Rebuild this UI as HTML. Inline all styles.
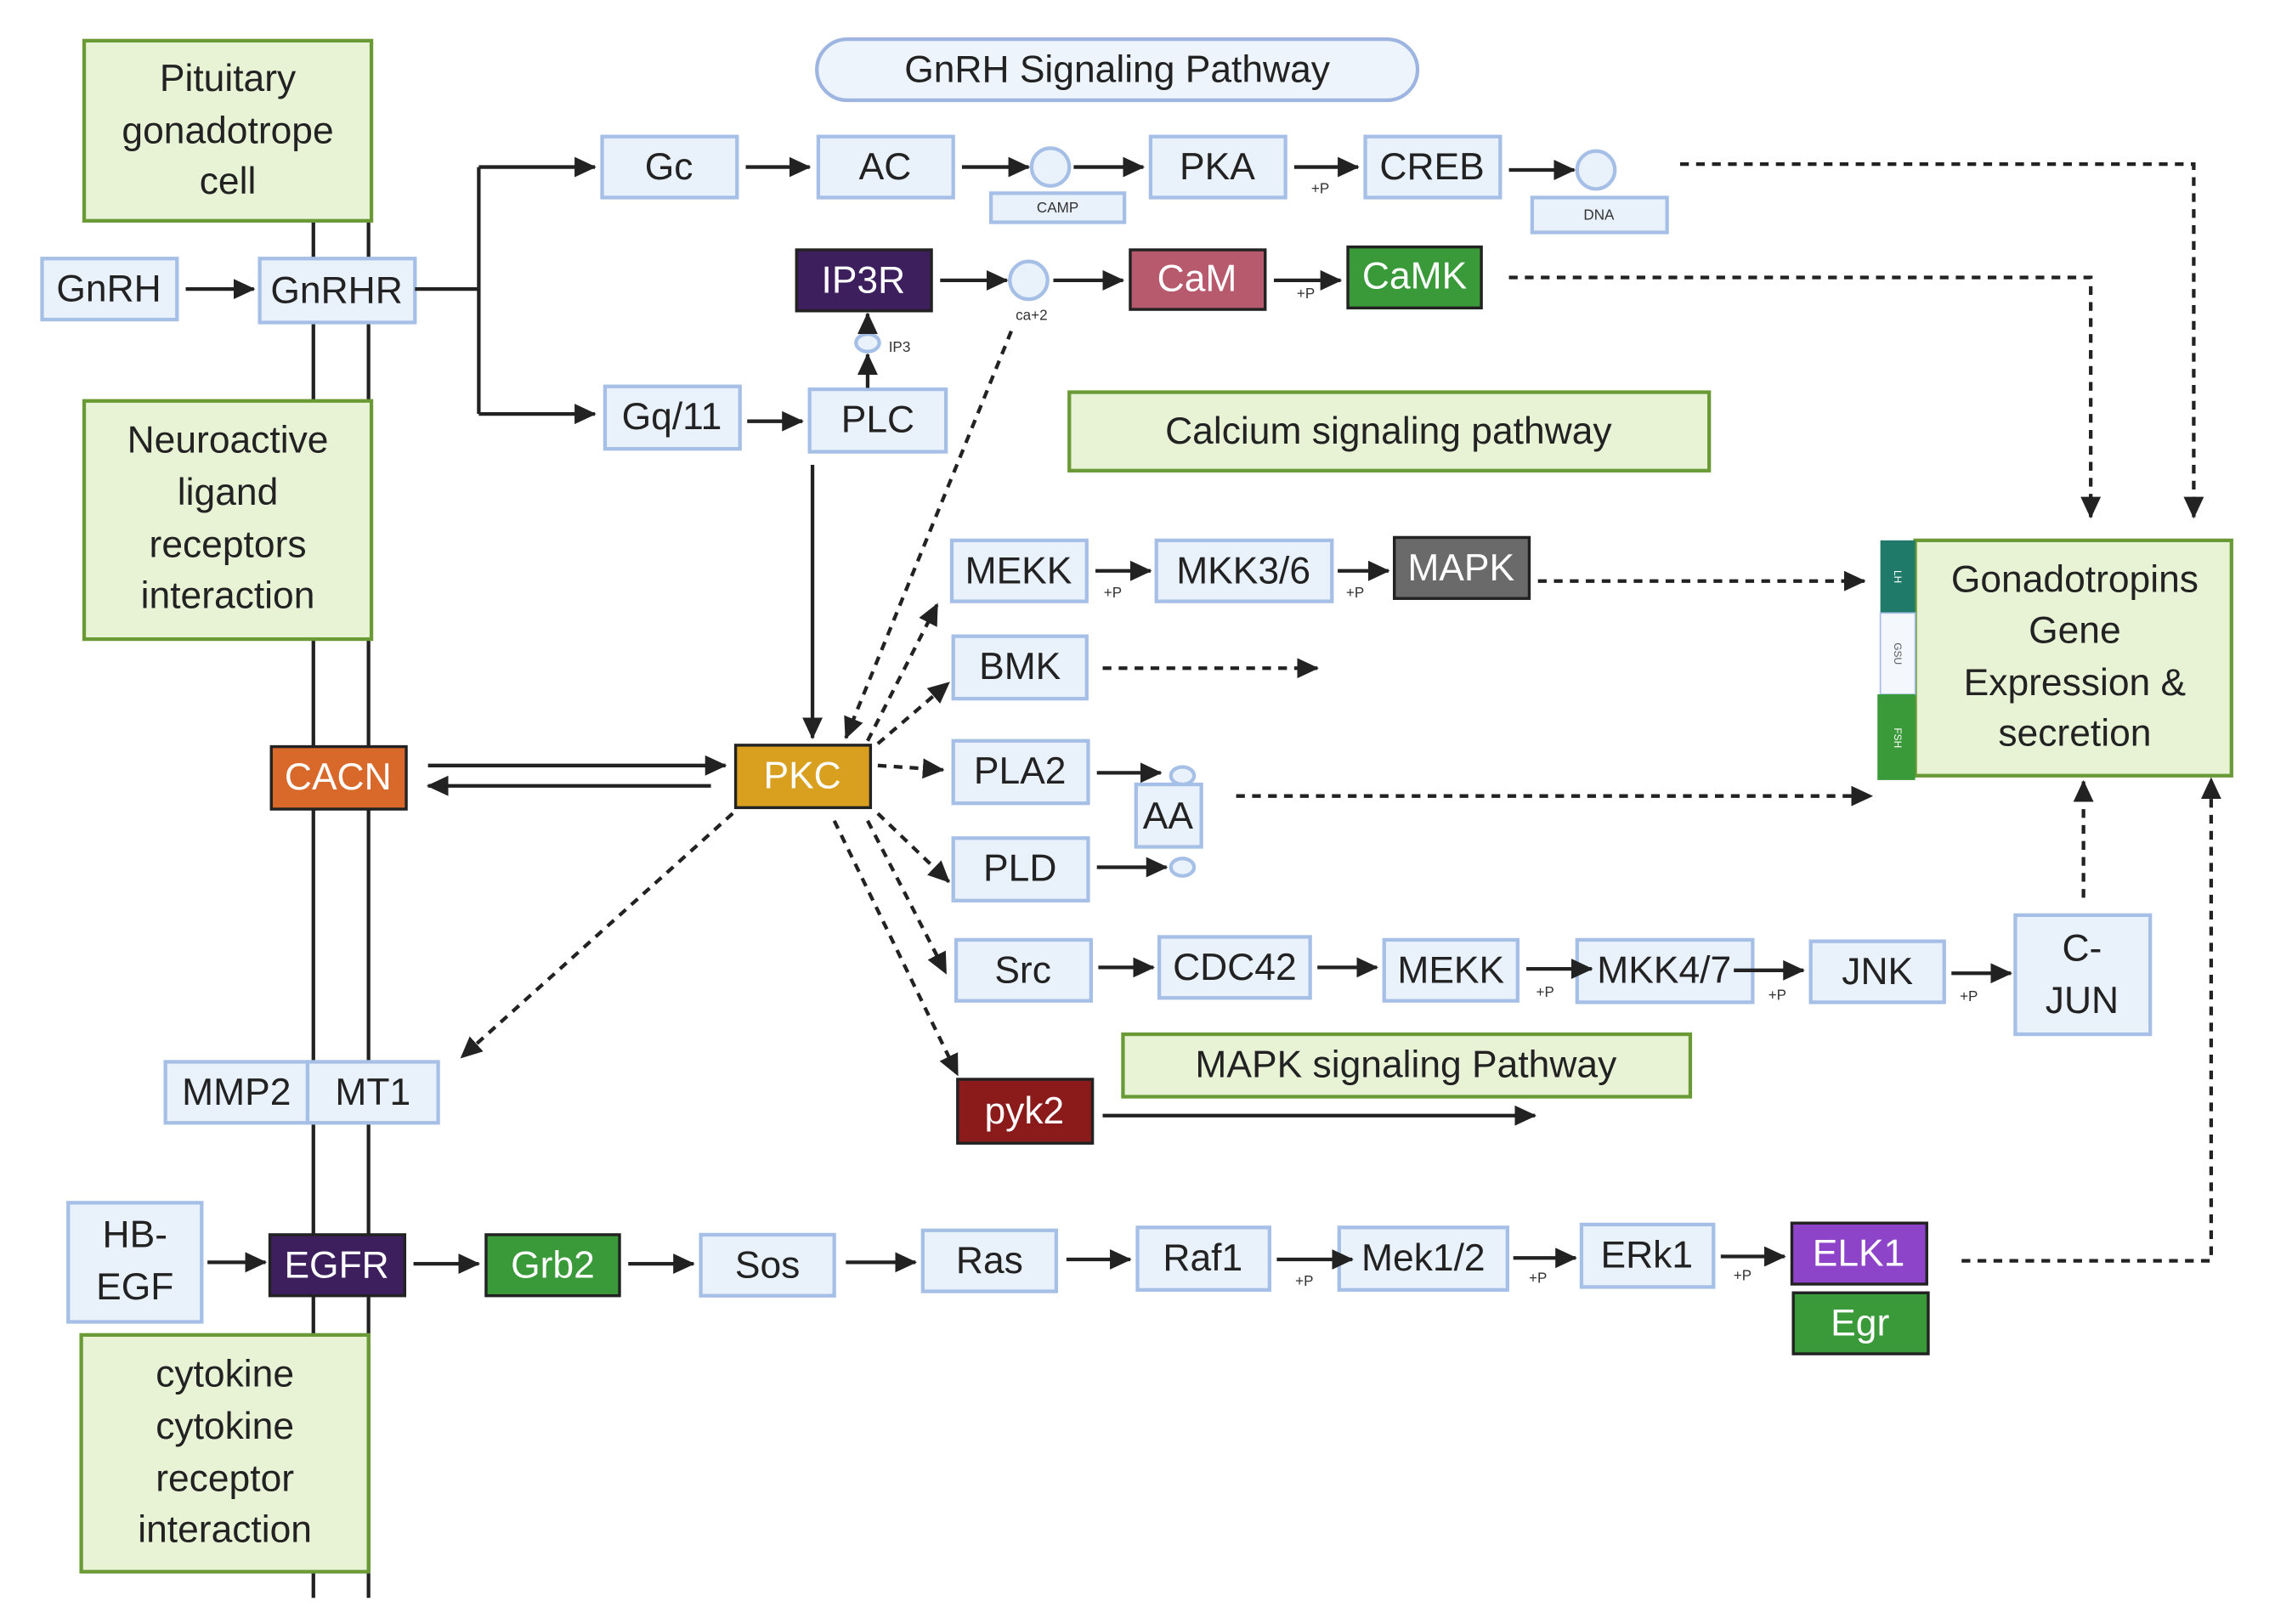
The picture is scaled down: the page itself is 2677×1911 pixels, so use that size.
<!DOCTYPE html>
<html><head><meta charset="utf-8"><style>
html,body{margin:0;padding:0;background:#fff;}
svg{display:block;}
text{font-family:"Liberation Sans Narrow","Liberation Sans",sans-serif;text-anchor:middle;dominant-baseline:central;}
</style></head><body>
<svg width="2677" height="1911" viewBox="0 0 1568 1118" preserveAspectRatio="none" xmlns="http://www.w3.org/2000/svg">
<defs>
<marker id="a" markerUnits="userSpaceOnUse" markerWidth="16" markerHeight="16" refX="14" refY="8" orient="auto"><path d="M0,1 L15,8 L0,15 z" fill="#222"/></marker>
</defs>
<g stroke="#222" stroke-width="2.5" fill="none">
<line x1="216" y1="152" x2="216" y2="1100"/><line x1="254" y1="152" x2="254" y2="1100"/>
</g>
<g fill="#e8f3d6" stroke="#6a9a36" stroke-width="2.5">
<rect x="58" y="28" width="198" height="124"/>
<rect x="58" y="276" width="198" height="164"/>
<rect x="56" y="919" width="198" height="163"/>
<rect x="737" y="270" width="441" height="54"/>
<rect x="774" y="712" width="391" height="43"/>
<rect x="1320" y="372" width="218" height="162"/>
</g>
<rect x="563" y="27" width="414" height="42" rx="21" fill="#eef4fb" stroke="#9db5e0" stroke-width="2.5"/>
<rect x="1296" y="372" width="24" height="50" fill="#1f7a6a"/>
<rect x="1296" y="422" width="24" height="56" fill="#f4f7fb" stroke="#a6bfe6"/>
<rect x="1294" y="478" width="26" height="59" fill="#3a9a3a"/>
<g font-size="7" fill="#fff"><text x="1308" y="397" transform="rotate(90 1308 397)">LH</text><text x="1308" y="450" fill="#555" transform="rotate(90 1308 450)">GSU</text><text x="1308" y="508" transform="rotate(90 1308 508)">FSH</text></g>
<g fill="#e9f1fb" stroke="#a6bfe6" stroke-width="2.5">
<rect x="29" y="178" width="93" height="42"/><rect x="179" y="178" width="107" height="44"/>
<rect x="415" y="94" width="93" height="42"/><rect x="564" y="94" width="93" height="42"/>
<rect x="683" y="133" width="92" height="20"/><rect x="793" y="94" width="93" height="42"/>
<rect x="941" y="94" width="93" height="42"/><rect x="1056" y="136" width="93" height="24"/>
<rect x="417" y="266" width="93" height="43"/><rect x="558" y="268" width="94" height="43"/>
<rect x="656" y="372" width="93" height="42"/><rect x="797" y="372" width="121" height="42"/>
<rect x="657" y="438" width="92" height="43"/><rect x="657" y="510" width="93" height="43"/>
<rect x="783" y="540" width="45" height="43"/><rect x="657" y="577" width="93" height="43"/>
<rect x="659" y="647" width="93" height="42"/><rect x="799" y="645" width="104" height="42"/>
<rect x="954" y="647" width="92" height="42"/><rect x="1087" y="647" width="121" height="43"/>
<rect x="1248" y="648" width="92" height="42"/><rect x="1389" y="630" width="93" height="82"/>
<rect x="114" y="731" width="98" height="42"/><rect x="212" y="731" width="90" height="42"/>
<rect x="47" y="828" width="92" height="82"/>
<rect x="483" y="850" width="92" height="42"/><rect x="636" y="847" width="92" height="42"/>
<rect x="784" y="845" width="91" height="43"/><rect x="923" y="845" width="116" height="43"/>
<rect x="1090" y="843" width="91" height="43"/>
<circle cx="724" cy="115" r="13"/><circle cx="1100" cy="117" r="13"/><circle cx="709" cy="193" r="13"/>
<ellipse cx="598" cy="236" rx="8" ry="6"/><ellipse cx="815" cy="534" rx="8" ry="6"/><ellipse cx="815" cy="597" rx="8" ry="6"/>
</g>
<g stroke="#222" stroke-width="2">
<rect x="549" y="172" width="93" height="42" fill="#3d1f5e"/>
<rect x="779" y="172" width="93" height="41" fill="#b85a6e"/>
<rect x="929" y="170" width="92" height="42" fill="#3a9a3a"/>
<rect x="961" y="370" width="93" height="42" fill="#6a6a6a"/>
<rect x="187" y="514" width="93" height="43" fill="#d9692b"/>
<rect x="507" y="513" width="93" height="43" fill="#d9a020"/>
<rect x="660" y="743" width="93" height="44" fill="#8b1a1a"/>
<rect x="186" y="850" width="93" height="42" fill="#3d1f5e"/>
<rect x="335" y="850" width="92" height="42" fill="#3a9a3a"/>
<rect x="1235" y="842" width="93" height="42" fill="#8e44c8"/>
<rect x="1236" y="890" width="93" height="42" fill="#3a9a3a"/>
</g>
<g stroke="#222" stroke-width="2.5" fill="none">
<line x1="128" y1="199" x2="175" y2="199" marker-end="url(#a)"/>
<polyline points="286,199 330,199"/><line x1="330" y1="115" x2="330" y2="285"/>
<line x1="330" y1="115" x2="410" y2="115" marker-end="url(#a)"/>
<line x1="330" y1="285" x2="410" y2="285" marker-end="url(#a)"/>
<line x1="514" y1="115" x2="558" y2="115" marker-end="url(#a)"/>
<line x1="663" y1="115" x2="709" y2="115" marker-end="url(#a)"/>
<line x1="740" y1="115" x2="788" y2="115" marker-end="url(#a)"/>
<line x1="892" y1="115" x2="936" y2="115" marker-end="url(#a)"/>
<line x1="1040" y1="117" x2="1085" y2="117" marker-end="url(#a)"/>
<line x1="648" y1="193" x2="694" y2="193" marker-end="url(#a)"/>
<line x1="726" y1="193" x2="774" y2="193" marker-end="url(#a)"/>
<line x1="878" y1="193" x2="924" y2="193" marker-end="url(#a)"/>
<line x1="515" y1="290" x2="553" y2="290" marker-end="url(#a)"/>
<line x1="598" y1="267" x2="598" y2="244" marker-end="url(#a)"/>
<line x1="598" y1="229" x2="598" y2="216" marker-end="url(#a)"/>
<line x1="560" y1="320" x2="560" y2="508" marker-end="url(#a)"/>
<line x1="755" y1="393" x2="793" y2="393" marker-end="url(#a)"/>
<line x1="922" y1="393" x2="957" y2="393" marker-end="url(#a)"/>
<line x1="295" y1="527" x2="500" y2="527" marker-end="url(#a)"/>
<line x1="490" y1="541" x2="295" y2="541" marker-end="url(#a)"/>
<line x1="756" y1="532" x2="800" y2="532" marker-end="url(#a)"/>
<line x1="756" y1="597" x2="804" y2="597" marker-end="url(#a)"/>
<line x1="757" y1="666" x2="795" y2="666" marker-end="url(#a)"/>
<line x1="908" y1="666" x2="949" y2="666" marker-end="url(#a)"/>
<line x1="1052" y1="667" x2="1097" y2="667" marker-end="url(#a)"/>
<line x1="1195" y1="668" x2="1243" y2="668" marker-end="url(#a)"/>
<line x1="1345" y1="670" x2="1386" y2="670" marker-end="url(#a)"/>
<line x1="760" y1="768" x2="1058" y2="768" marker-end="url(#a)"/>
<line x1="143" y1="869" x2="183" y2="869" marker-end="url(#a)"/>
<line x1="285" y1="870" x2="330" y2="870" marker-end="url(#a)"/>
<line x1="433" y1="870" x2="478" y2="870" marker-end="url(#a)"/>
<line x1="583" y1="869" x2="631" y2="869" marker-end="url(#a)"/>
<line x1="735" y1="867" x2="779" y2="867" marker-end="url(#a)"/>
<line x1="880" y1="867" x2="932" y2="867" marker-end="url(#a)"/>
<line x1="1043" y1="866" x2="1086" y2="866" marker-end="url(#a)"/>
<line x1="1186" y1="865" x2="1230" y2="865" marker-end="url(#a)"/>
</g>
<g stroke="#222" stroke-width="2.5" fill="none" stroke-dasharray="6,5">
<polyline points="1158,113 1512,113 1512,356" marker-end="url(#a)"/>
<polyline points="1040,191 1441,191 1441,356" marker-end="url(#a)"/>
<line x1="1060" y1="400" x2="1285" y2="400" marker-end="url(#a)"/>
<line x1="760" y1="460" x2="908" y2="460" marker-end="url(#a)"/>
<line x1="852" y1="548" x2="1290" y2="548" marker-end="url(#a)"/>
<line x1="1436" y1="618" x2="1436" y2="538" marker-end="url(#a)"/>
<polyline points="1352,868 1524,868 1524,536" marker-end="url(#a)"/>
<line x1="697" y1="228" x2="583" y2="508" marker-end="url(#a)"/>
<line x1="598" y1="510" x2="646" y2="416" marker-end="url(#a)"/>
<line x1="605" y1="512" x2="654" y2="470" marker-end="url(#a)"/>
<line x1="605" y1="527" x2="650" y2="530" marker-end="url(#a)"/>
<line x1="605" y1="560" x2="654" y2="607" marker-end="url(#a)"/>
<line x1="598" y1="565" x2="652" y2="670" marker-end="url(#a)"/>
<line x1="575" y1="565" x2="660" y2="740" marker-end="url(#a)"/>
<line x1="505" y1="560" x2="318" y2="728" marker-end="url(#a)"/>
</g>
<g font-size="26" fill="#222">
<text x="157" y="54">Pituitary</text><text x="157" y="90">gonadotrope</text><text x="157" y="125">cell</text>
<text x="157" y="303">Neuroactive</text><text x="157" y="339">ligand</text><text x="157" y="375">receptors</text><text x="157" y="410">interaction</text>
<text x="155" y="946">cytokine</text><text x="155" y="982">cytokine</text><text x="155" y="1018">receptor</text><text x="155" y="1053">interaction</text>
<text x="770" y="48">GnRH Signaling Pathway</text>
<text x="957" y="297">Calcium signaling pathway</text>
<text x="969" y="733">MAPK signaling Pathway</text>
<text x="1430" y="399">Gonadotropins</text><text x="1430" y="434">Gene</text><text x="1430" y="470">Expression &amp;</text><text x="1430" y="505">secretion</text>
<text x="75" y="199">GnRH</text><text x="232" y="200">GnRHR</text>
<text x="461" y="115">Gc</text><text x="610" y="115">AC</text><text x="839" y="115">PKA</text><text x="987" y="115">CREB</text>
<text x="463" y="287">Gq/11</text><text x="605" y="289">PLC</text>
<text x="702" y="393">MEKK</text><text x="857" y="393">MKK3/6</text>
<text x="703" y="459">BMK</text><text x="703" y="531">PLA2</text><text x="805" y="562">AA</text><text x="703" y="598">PLD</text>
<text x="705" y="668">Src</text><text x="851" y="666">CDC42</text><text x="1000" y="668">MEKK</text><text x="1147" y="668">MKK4/7</text><text x="1294" y="669">JNK</text>
<text x="1435" y="653">C-</text><text x="1435" y="689">JUN</text>
<text x="163" y="752">MMP2</text><text x="257" y="752">MT1</text>
<text x="93" y="850">HB-</text><text x="93" y="886">EGF</text>
<text x="529" y="871">Sos</text><text x="682" y="868">Ras</text><text x="829" y="866">Raf1</text><text x="981" y="866">Mek1/2</text><text x="1135" y="864">ERk1</text>
</g>
<g font-size="26" fill="#fff">
<text x="595" y="193">IP3R</text><text x="825" y="192">CaM</text><text x="975" y="190">CaMK</text><text x="1007" y="391">MAPK</text>
<text x="233" y="535">CACN</text><text x="553" y="534">PKC</text><text x="706" y="765">pyk2</text>
<text x="232" y="871">EGFR</text><text x="381" y="871">Grb2</text><text x="1281" y="863">ELK1</text><text x="1282" y="911">Egr</text>
</g>
<g font-size="10" fill="#333">
<text x="729" y="143">CAMP</text><text x="1102" y="148">DNA</text><text x="711" y="217">ca+2</text><text x="620" y="239">IP3</text>
<text x="910" y="130">+P</text><text x="900" y="202">+P</text><text x="767" y="408">+P</text><text x="934" y="408">+P</text>
<text x="1065" y="683">+P</text><text x="1225" y="685">+P</text><text x="1357" y="686">+P</text>
<text x="899" y="882">+P</text><text x="1060" y="880">+P</text><text x="1201" y="878">+P</text>
</g>
</svg>
</body></html>
